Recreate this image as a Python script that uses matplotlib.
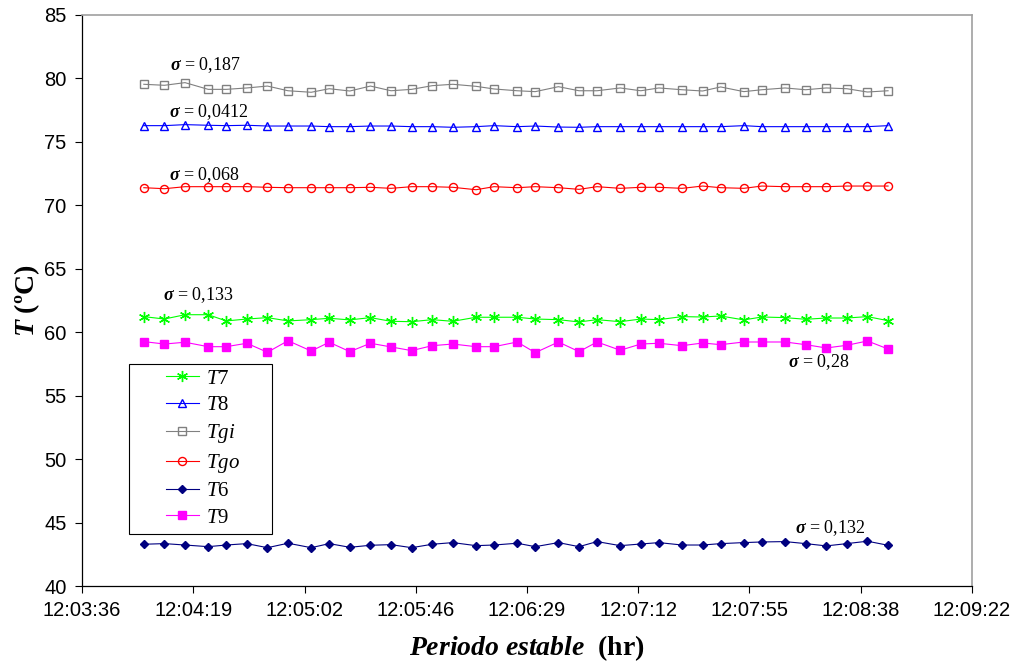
import matplotlib
matplotlib.use("Agg")
import matplotlib.pyplot as plt
from matplotlib.patches import Rectangle

# Mathtext fonts so that bold italic pieces come out in a Times-like serif
plt.rcParams["mathtext.fontset"] = "custom"
plt.rcParams["mathtext.rm"] = "Liberation Serif"
plt.rcParams["mathtext.it"] = "Liberation Serif:italic"
plt.rcParams["mathtext.bf"] = "Liberation Serif:bold"
plt.rcParams["mathtext.bfit"] = "Liberation Serif:italic:bold"

# Sample times (hh:mm:ss)
times = ["12:04:00", "12:04:08", "12:04:16", "12:04:25", "12:04:32", "12:04:40",
         "12:04:48", "12:04:56", "12:05:05", "12:05:12", "12:05:20", "12:05:28",
         "12:05:36", "12:05:44", "12:05:52", "12:06:00", "12:06:09", "12:06:16",
         "12:06:25", "12:06:32", "12:06:41", "12:06:49", "12:06:56", "12:07:05",
         "12:07:13", "12:07:20", "12:07:29", "12:07:37", "12:07:44", "12:07:53",
         "12:08:00", "12:08:09", "12:08:17", "12:08:25", "12:08:33", "12:08:41",
         "12:08:49"]

t7 = [61.23, 61.04, 61.38, 61.38, 60.89, 61.04, 61.15, 60.89, 60.99, 61.10,
      60.97, 61.15, 60.86, 60.83, 60.99, 60.86, 61.18, 61.18, 61.18,
      61.04, 60.99, 60.81, 60.99, 60.83, 61.04, 60.99, 61.23, 61.20, 61.28,
      60.97, 61.20, 61.15, 61.02, 61.12, 61.12, 61.23, 60.91]
t8 = [76.28, 76.28, 76.36, 76.31, 76.28, 76.31, 76.25, 76.25, 76.25, 76.20,
      76.20, 76.25, 76.25, 76.20, 76.20, 76.15, 76.20, 76.28, 76.20,
      76.25, 76.17, 76.15, 76.20, 76.20, 76.20, 76.20, 76.20, 76.20, 76.20,
      76.28, 76.20, 76.20, 76.20, 76.20, 76.20, 76.20, 76.28]
tgi = [79.54, 79.46, 79.67, 79.14, 79.14, 79.25, 79.40, 79.03, 78.91, 79.19,
       79.01, 79.40, 79.03, 79.14, 79.43, 79.54, 79.38, 79.17, 79.03,
       78.96, 79.35, 79.03, 79.03, 79.25, 79.03, 79.25, 79.11, 79.01, 79.33,
       78.96, 79.11, 79.25, 79.11, 79.25, 79.19, 78.93, 79.03]
tgo = [71.39, 71.31, 71.47, 71.47, 71.47, 71.47, 71.42, 71.39, 71.39, 71.39,
       71.39, 71.42, 71.34, 71.47, 71.47, 71.42, 71.23, 71.47, 71.39,
       71.47, 71.39, 71.26, 71.47, 71.34, 71.42, 71.42, 71.34, 71.52, 71.39,
       71.34, 71.52, 71.47, 71.47, 71.47, 71.52, 71.52, 71.52]
t6 = [43.29, 43.34, 43.23, 43.10, 43.23, 43.34, 43.02, 43.37, 43.02, 43.34,
      43.05, 43.21, 43.26, 43.02, 43.29, 43.42, 43.18, 43.23, 43.37,
      43.10, 43.42, 43.10, 43.50, 43.18, 43.31, 43.42, 43.23, 43.23, 43.34,
      43.42, 43.47, 43.50, 43.34, 43.16, 43.34, 43.53, 43.21]
t9 = [59.26, 59.07, 59.21, 58.86, 58.86, 59.13, 58.42, 59.33, 58.52, 59.21,
      58.47, 59.13, 58.84, 58.55, 58.94, 59.07, 58.86, 58.86, 59.23,
      58.39, 59.23, 58.47, 59.23, 58.58, 59.07, 59.13, 58.94, 59.15, 59.02,
      59.23, 59.23, 59.23, 59.02, 58.76, 58.97, 59.31, 58.68]

# Excel axis: major unit 0.0005 day (43.2 s) starting at 12:03:36
tick_labels = ["12:03:36", "12:04:19", "12:05:02", "12:05:46", "12:06:29",
               "12:07:12", "12:07:55", "12:08:38", "12:09:22"]
y_ticks = [40, 45, 50, 55, 60, 65, 70, 75, 80, 85]


def to_sec(s):
    h, m, sec = s.split(":")
    return int(h) * 3600 + int(m) * 60 + int(sec)


x = [to_sec(t) for t in times]
x0 = to_sec("12:03:36")
tick_pos = [x0 + 43.2 * i for i in range(len(tick_labels))]

fig = plt.figure(figsize=(10.19, 6.68), dpi=100)
ax = fig.add_axes([82 / 1019, 82 / 668, 890 / 1019, 571 / 668])

lw = 0.8
ax.plot(x, t7, color="#00FF00", lw=lw, marker=(6, 2, 0), ms=8, mew=1.0,
        label="$\\it{T7}$")
ax.plot(x, t8, color="#0000FF", lw=lw, marker="^", ms=5.5, mfc="none",
        mew=1.0, label="$\\it{T8}$")
ax.plot(x, tgi, color="#808080", lw=lw, marker="s", ms=5.2, mfc="none",
        mew=1.0, label="$\\it{Tgi}$")
ax.plot(x, tgo, color="#FF0000", lw=lw, marker="o", ms=5.8, mfc="none",
        mew=1.0, label="$\\it{Tgo}$")
ax.plot(x, t6, color="#000080", lw=lw, marker="D", ms=4.5, label="$\\it{T6}$")
ax.plot(x, t9, color="#FF00FF", lw=lw, marker="s", ms=5.5, label="$\\it{T9}$")

ax.set_xlim(tick_pos[0], tick_pos[-1])
ax.set_ylim(40, 85)
ax.set_xticks(tick_pos)
ax.set_xticklabels(tick_labels, fontfamily="Liberation Sans", fontsize=14.5)
ax.set_yticks(y_ticks)
ax.set_yticklabels([str(v) for v in y_ticks], fontfamily="Liberation Sans",
                   fontsize=14.5)
ax.tick_params(direction="out", length=5, width=0.8, color="black", pad=6)

for side in ["top", "right"]:
    ax.spines[side].set_color("#A0A0A0")
    ax.spines[side].set_linewidth(1.2)
for side in ["left", "bottom"]:
    ax.spines[side].set_color("black")
    ax.spines[side].set_linewidth(0.9)

ax.set_xlabel("$\\mathbfit{Periodo\\ estable}$  (hr)", fontfamily="Liberation Serif",
              fontweight="bold", fontsize=20, labelpad=9)
ax.set_ylabel("$\\mathbfit{T}$ (ºC)", fontfamily="Liberation Serif",
              fontweight="bold", fontsize=20, labelpad=2)

# sigma annotations
notes = [("0,187", 43450.2, 81.05), ("0,0412", 43449.8, 77.38),
         ("0,068", 43449.8, 72.39), ("0,133", 43447.5, 62.93),
         ("0,28", 43690.1, 57.68), ("0,132", 43692.9, 44.57)]
for val, tx, ty in notes:
    ax.text(tx, ty, "$\\mathbfit{\\sigma}$ = " + val, fontfamily="Liberation Serif",
            fontsize=13, ha="left", va="center")

# legend box
ax.add_patch(Rectangle((0.0528, 0.091), 0.161, 0.298, transform=ax.transAxes,
                       facecolor="white", edgecolor="black", lw=0.8, zorder=4))
leg = ax.legend(loc="upper left", bbox_to_anchor=(0.094, 0.38), frameon=False,
                borderpad=0, borderaxespad=0, handlelength=1.6,
                handletextpad=0.35, labelspacing=0.33,
                prop={"family": "Liberation Serif", "size": 15})
leg.set_zorder(5)

fig.savefig("out.png", dpi=100)
